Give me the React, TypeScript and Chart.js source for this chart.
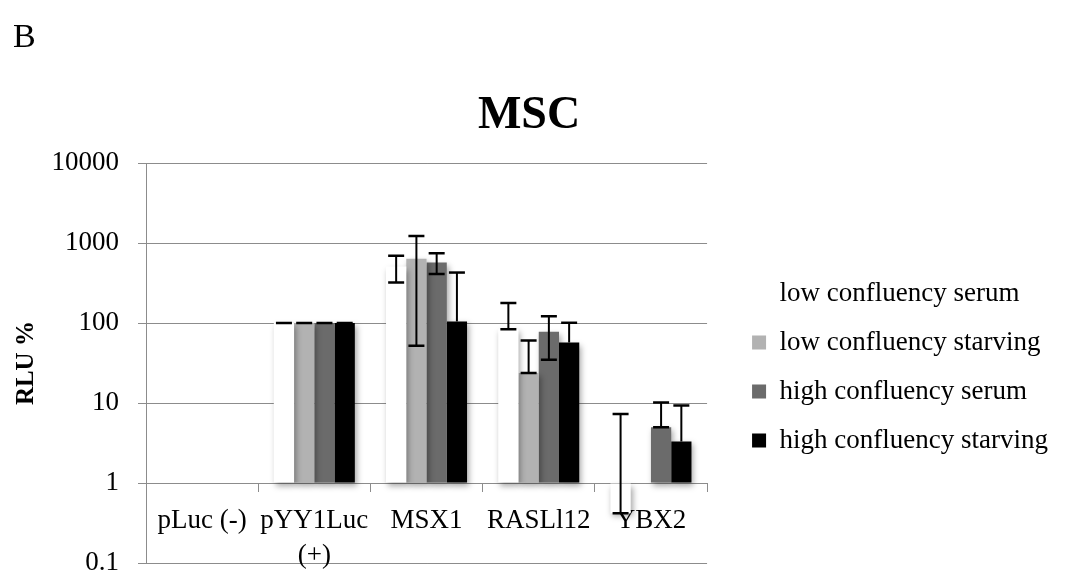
import React, { useEffect, useRef } from 'react';
import { Chart, registerables } from 'chart.js';

Chart.register(...registerables);

// ---- data ----
const categories: (string | string[])[] = [['pLuc (-)'], ['pYY1Luc', '(+)'], 'MSX1', 'RASLl12', 'YBX2'];
const seriesNames = ['low confluency serum', 'low confluency starving', 'high confluency serum', 'high confluency starving'];
const seriesColors = ['#ffffff', '#b2b2b2', '#6b6b6b', '#000000'];

const lowSerum = [null, 100, 510, 84, 0.42];
const lowStarving = [null, 100, 637, 23.7, null];
const highSerum = [null, 100, 572, 77.8, 5.0];
const highStarving = [null, 100, 105, 57.2, 3.31];

const lowSerumErrLow = [null, 100, 322, 84, 0.42];
const lowSerumErrHigh = [null, 100, 694, 178, 7.29];
const lowStarvingErrLow = [null, 100, 52, 23.7, null];
const lowStarvingErrHigh = [null, 100, 1233, 60.6, null];
const highSerumErrLow = [null, 100, 410, 34.8, 5.0];
const highSerumErrHigh = [null, 100, 750, 122, 10.2];
const highStarvingErrLow = [null, 100, null, null, null];
const highStarvingErrHigh = [null, 100, 429, 101, 9.33];

const yTickValues = [0.1, 1, 10, 100, 1000, 10000];
const chartTitle = 'MSC';
const panelLetter = 'B';
const yAxisTitle = 'RLU %';

export default function App() {
  const canvasRef = useRef<HTMLCanvasElement>(null);

  useEffect(() => {
    if (!canvasRef.current) return;
    const FONT = "'Liberation Serif', 'Times New Roman', serif";
    const GRID = '#8c8c8c';

    const seriesValues = [lowSerum, lowStarving, highSerum, highStarving];
    const errLows = [lowSerumErrLow, lowStarvingErrLow, highSerumErrLow, highStarvingErrLow];
    const errHighs = [lowSerumErrHigh, lowStarvingErrHigh, highSerumErrHigh, highStarvingErrHigh];

    const decorPlugin = {
      id: 'decor',
      beforeDatasetsDraw(chart: any) {
        const ctx = chart.ctx;
        ctx.save();
        ctx.shadowColor = 'rgba(0,0,0,0.35)';
        ctx.shadowBlur = 6;
        ctx.shadowOffsetX = 2;
        ctx.shadowOffsetY = 3;
      },
      afterDatasetsDraw(chart: any) {
        const ctx = chart.ctx;
        ctx.restore();
        const yScale = chart.scales.y;
        ctx.save();
        ctx.strokeStyle = '#000';
        const capHalf = 8;
        seriesValues.forEach((vals, di) => {
          const meta = chart.getDatasetMeta(di);
          vals.forEach((v, j) => {
            const hi = errHighs[di][j];
            if (v == null || hi == null) return;
            const lo = errLows[di][j];
            const bar = meta.data[j];
            const x = bar.x;
            const yHi = yScale.getPixelForValue(hi);
            const yLo = yScale.getPixelForValue(lo != null ? lo : v);
            ctx.lineWidth = 2;
            ctx.beginPath();
            ctx.moveTo(x, yLo);
            ctx.lineTo(x, yHi);
            ctx.stroke();
            ctx.lineWidth = 2.5;
            ctx.beginPath();
            ctx.moveTo(x - capHalf, yHi);
            ctx.lineTo(x + capHalf, yHi);
            if (lo != null) {
              ctx.moveTo(x - capHalf, yLo);
              ctx.lineTo(x + capHalf, yLo);
            }
            ctx.stroke();
          });
        });
        ctx.restore();
      },
      afterDraw(chart: any) {
        const ctx = chart.ctx;
        ctx.save();
        ctx.fillStyle = '#000';
        ctx.font = `34px ${FONT}`;
        ctx.textBaseline = 'alphabetic';
        ctx.textAlign = 'left';
        ctx.fillText(panelLetter, 13, 47);
        ctx.restore();
      },
    };

    const zeroVPad = (s: any) => {
      s.paddingTop = 0;
      s.paddingBottom = 0;
    };

    const chart = new Chart(canvasRef.current, {
      type: 'bar',
      data: {
        labels: categories,
        datasets: seriesValues.map((vals, i) => ({
          label: seriesNames[i],
          data: vals,
          backgroundColor: seriesColors[i],
          borderColor: seriesColors[i],
          borderWidth: 0,
          base: 1,
          barPercentage: 1,
          categoryPercentage: 0.722,
        })),
      },
      options: {
        responsive: false,
        animation: false,
        layout: { padding: { top: 0, left: 0, right: 8, bottom: 14 } },
        scales: {
          x: {
            position: { y: 1 } as any,
            offset: true,
            afterFit: zeroVPad,
            grid: { display: true, offset: true, drawOnChartArea: false, drawTicks: true, tickLength: 8, color: GRID, lineWidth: 1 },
            border: { display: true, color: GRID, width: 1 },
            ticks: {
              autoSkip: false,
              maxRotation: 0,
              minRotation: 0,
              padding: 13,
              color: '#000',
              font: { family: FONT, size: 27, lineHeight: 1.28 },
            },
          },
          y: {
            type: 'logarithmic',
            position: 'left',
            min: 0.1,
            max: 10000,
            afterBuildTicks: (s: any) => {
              s.ticks = yTickValues.map((v) => ({ value: v }));
            },
            afterFit: (s: any) => {
              s.width = 146;
              s.paddingTop = 0;
              s.paddingBottom = 0;
            },
            grid: { color: GRID, lineWidth: 1, tickLength: 8, drawTicks: true },
            border: { color: GRID, width: 1 },
            ticks: {
              padding: 19,
              color: '#000',
              font: { family: FONT, size: 27, lineHeight: 1 },
              callback: (v: any) => String(v),
            },
            title: {
              display: true,
              text: yAxisTitle,
              color: '#000',
              font: { family: FONT, size: 25, weight: 'bold', lineHeight: 1.2 },
              padding: { top: 12, bottom: 0 },
            },
          },
          spacer: {
            type: 'linear',
            position: 'right',
            display: true,
            grid: { display: false, drawTicks: false },
            border: { display: false },
            ticks: { display: false },
            afterFit: (s: any) => {
              s.width = 23;
              s.paddingTop = 0;
              s.paddingBottom = 0;
            },
          },
        } as any,
        plugins: {
          title: {
            display: true,
            text: chartTitle,
            color: '#000',
            font: { family: FONT, size: 46, weight: 'bold', lineHeight: 1.2 },
            padding: { top: 89, bottom: 19 },
          },
          legend: {
            position: 'right',
            align: 'center',
            fullSize: false,
            maxWidth: 420,
            title: {
              display: true,
              text: ' ',
              font: { family: FONT, size: 6, lineHeight: 1 },
              padding: { top: 1, bottom: 1 },
            },
            labels: {
              boxWidth: 14,
              boxHeight: 14,
              padding: 22,
              color: '#000',
              font: { family: FONT, size: 27 },
            },
          },
          tooltip: { enabled: false },
        },
      } as any,
      plugins: [decorPlugin],
    });

    return () => chart.destroy();
  }, []);

  return (
    <div style={{ position: 'fixed', left: 0, top: 0, width: 1066, height: 577, background: '#fff' }}>
      <canvas ref={canvasRef} width={1066} height={577} style={{ display: 'block' }} />
    </div>
  );
}
